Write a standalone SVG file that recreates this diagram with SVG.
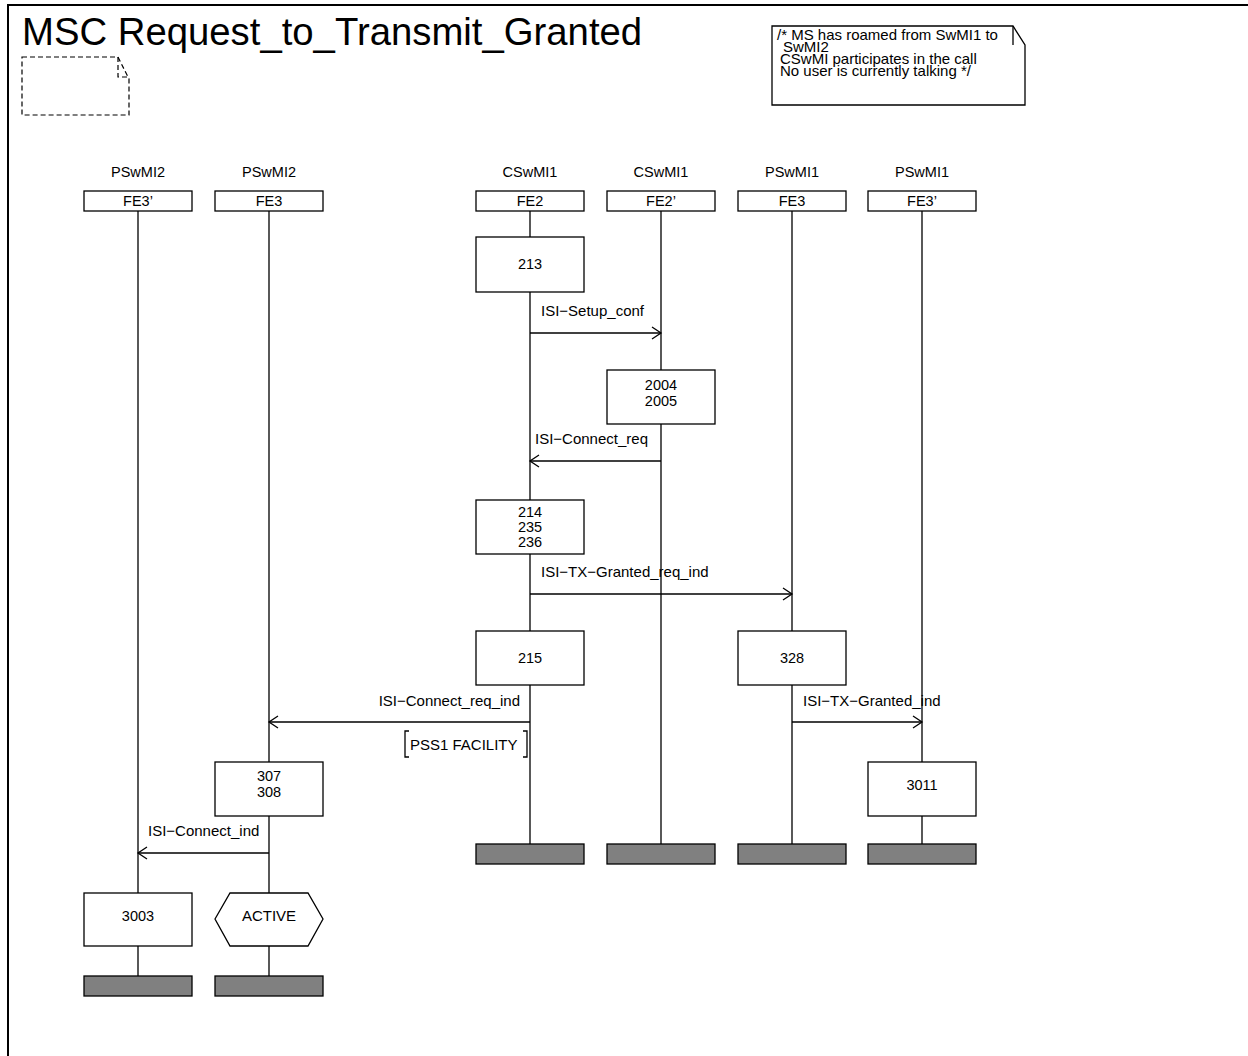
<svg xmlns="http://www.w3.org/2000/svg" width="1248" height="1056" viewBox="0 0 1248 1056">
<defs>
<style>
text{font-family:"Liberation Sans",Arial,sans-serif;fill:#000}
.t{font-size:14.5px}
.m{font-size:15px}
.c{text-anchor:middle}
.e{text-anchor:end}
.box{fill:#fff;stroke:#000;stroke-width:1.3}
.ln{fill:none;stroke:#000;stroke-width:1.3}
.end{fill:#808080;stroke:#000;stroke-width:1.3}
</style>
<marker id="ah" markerWidth="12" markerHeight="14" refX="10" refY="7" orient="auto" markerUnits="userSpaceOnUse">
<path d="M1,1 L10,7 L1,13" fill="none" stroke="#000" stroke-width="1.3"/>
</marker>
</defs>
<rect x="0" y="0" width="1248" height="1056" fill="#fff"/>
<g id="frame">
<path d="M8,1060 V5 H1252" fill="none" stroke="#000" stroke-width="2"/>
<text x="22" y="45" style="font-size:38.3px">MSC Request_to_Transmit_Granted</text>
<path d="M22,57 H118 L129,79 V115 H22 Z" fill="none" stroke="#000" stroke-width="1.2" stroke-dasharray="5,3"/>
<path d="M118,57 V77 H129" fill="none" stroke="#000" stroke-width="1.2" stroke-dasharray="5,3"/>
</g>
<g id="comment">
<path d="M772,26 H1013 L1025,45 V105 H772 Z" class="box"/>
<path d="M1013,26 V45" class="ln"/>
<text class="m" x="777" y="40">/* MS has roamed from SwMI1 to</text>
<text class="m" x="783" y="52">SwMI2</text>
<text class="m" x="780" y="64">CSwMI participates in the call</text>
<text class="m" x="780" y="76">No user is currently talking */</text>
</g>
<g id="lifelines">
<path class="ln" d="M138,211 V976 M269,211 V976 M530,211 V844 M661,211 V844 M792,211 V844 M922,211 V844"/>
</g>
<g id="inst-pswmi2-fe3p">
<text class="t c" x="138" y="177">PSwMI2</text>
<rect class="box" x="84" y="191" width="108" height="20"/>
<text class="t c" x="138" y="206">FE3’</text>
</g>
<g id="inst-pswmi2-fe3">
<text class="t c" x="269" y="177">PSwMI2</text>
<rect class="box" x="215" y="191" width="108" height="20"/>
<text class="t c" x="269" y="206">FE3</text>
</g>
<g id="inst-cswmi1-fe2">
<text class="t c" x="530" y="177">CSwMI1</text>
<rect class="box" x="476" y="191" width="108" height="20"/>
<text class="t c" x="530" y="206">FE2</text>
</g>
<g id="inst-cswmi1-fe2p">
<text class="t c" x="661" y="177">CSwMI1</text>
<rect class="box" x="607" y="191" width="108" height="20"/>
<text class="t c" x="661" y="206">FE2’</text>
</g>
<g id="inst-pswmi1-fe3">
<text class="t c" x="792" y="177">PSwMI1</text>
<rect class="box" x="738" y="191" width="108" height="20"/>
<text class="t c" x="792" y="206">FE3</text>
</g>
<g id="inst-pswmi1-fe3p">
<text class="t c" x="922" y="177">PSwMI1</text>
<rect class="box" x="868" y="191" width="108" height="20"/>
<text class="t c" x="922" y="206">FE3’</text>
</g>
<g id="act-213">
<rect class="box" x="476" y="237" width="108" height="55"/>
<text class="t c" x="530" y="269">213</text>
</g>
<g id="act-2004">
<rect class="box" x="607" y="370" width="108" height="54"/>
<text class="t c" x="661" y="390">2004</text>
<text class="t c" x="661" y="406">2005</text>
</g>
<g id="act-214">
<rect class="box" x="476" y="500" width="108" height="54"/>
<text class="t c" x="530" y="517">214</text>
<text class="t c" x="530" y="532">235</text>
<text class="t c" x="530" y="547">236</text>
</g>
<g id="act-215">
<rect class="box" x="476" y="631" width="108" height="54"/>
<text class="t c" x="530" y="663">215</text>
</g>
<g id="act-328">
<rect class="box" x="738" y="631" width="108" height="54"/>
<text class="t c" x="792" y="663">328</text>
</g>
<g id="act-307">
<rect class="box" x="215" y="762" width="108" height="54"/>
<text class="t c" x="269" y="781">307</text>
<text class="t c" x="269" y="797">308</text>
</g>
<g id="act-3011">
<rect class="box" x="868" y="762" width="108" height="54"/>
<text class="t c" x="922" y="790">3011</text>
</g>
<g id="act-3003">
<rect class="box" x="84" y="893" width="108" height="53"/>
<text class="t c" x="138" y="921">3003</text>
</g>
<g id="state-active">
<polygon class="box" points="215,919 230,893 308,893 323,919 308,946 230,946"/>
<text class="m c" x="269" y="921">ACTIVE</text>
</g>
<g id="end-bars">
<rect class="end" x="84" y="976" width="108" height="20"/>
<rect class="end" x="215" y="976" width="108" height="20"/>
<rect class="end" x="476" y="844" width="108" height="20"/>
<rect class="end" x="607" y="844" width="108" height="20"/>
<rect class="end" x="738" y="844" width="108" height="20"/>
<rect class="end" x="868" y="844" width="108" height="20"/>
</g>
<g id="connectors">
<line class="ln" x1="530" y1="333" x2="661" y2="333" marker-end="url(#ah)"/>
<text class="m" x="541" y="316">ISI−Setup_conf</text>
<line class="ln" x1="661" y1="461" x2="530" y2="461" marker-end="url(#ah)"/>
<text class="m" x="535" y="444">ISI−Connect_req</text>
<line class="ln" x1="530" y1="594" x2="792" y2="594" marker-end="url(#ah)"/>
<text class="m" x="541" y="577">ISI−TX−Granted_req_ind</text>
<line class="ln" x1="530" y1="722" x2="269" y2="722" marker-end="url(#ah)"/>
<text class="m e" x="520" y="706">ISI−Connect_req_ind</text>
<path class="ln" d="M409,731 H405 V757 H409 M523,731 H527 V757 H523"/>
<text class="m" x="410" y="750">PSS1 FACILITY</text>
<line class="ln" x1="792" y1="722" x2="922" y2="722" marker-end="url(#ah)"/>
<text class="m" x="803" y="706">ISI−TX−Granted_ind</text>
<line class="ln" x1="269" y1="853" x2="138" y2="853" marker-end="url(#ah)"/>
<text class="m" x="148" y="836">ISI−Connect_ind</text>
</g>
</svg>
